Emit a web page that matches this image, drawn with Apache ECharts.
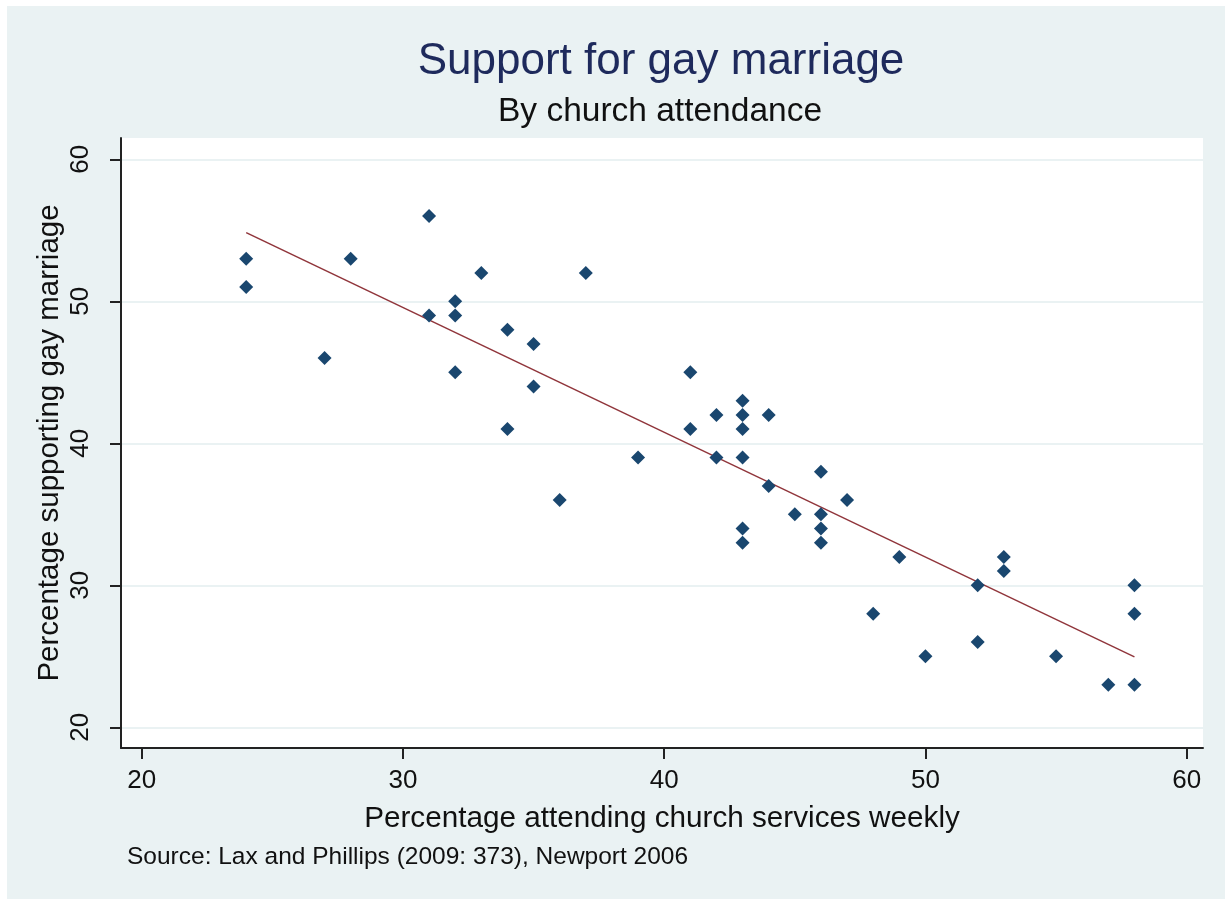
<!DOCTYPE html>
<html>
<head>
<meta charset="utf-8">
<script src="https://cdn.jsdelivr.net/npm/echarts@6/dist/echarts.min.js"></script>
<style>
html,body{margin:0;padding:0;background:#ffffff;}
#bg{position:absolute;left:7px;top:6px;width:1218px;height:893px;background:#eaf2f3;}
#chart{position:absolute;left:0;top:0;width:1225px;height:899px;}
</style>
</head>
<body>
<div id="bg"></div>
<div id="chart"></div>
<script>
// Percentage attending church services weekly (x) and percentage supporting gay marriage (y)
const attendance = [24,24,27,28,31,31,32,32,32,33,34,34,35,35,36,37,39,41,41,42,42,43,43,43,43,43,43,44,44,45,46,46,46,46,47,48,49,50,52,52,53,53,55,57,58,58,58];
const support    = [53,51,46,53,56,49,50,49,45,52,48,41,47,44,36,52,39,45,41,42,39,43,42,41,39,34,33,42,37,35,38,35,34,33,36,28,32,25,30,26,32,31,25,23,30,28,23];
const xTicks = [20,30,40,50,60];
const yTicks = [20,30,40,50,60];

const titleText = 'Support for gay marriage';
const subtitleText = 'By church attendance';
const xTitle = 'Percentage attending church services weekly';
const yTitle = 'Percentage supporting gay marriage';
const noteText = 'Source: Lax and Phillips (2009: 373), Newport 2006';

// Linear fit (OLS) computed from the data
const n = attendance.length;
let mx = 0, my = 0;
for (let i = 0; i < n; i++) { mx += attendance[i]; my += support[i]; }
mx /= n; my /= n;
let sxy = 0, sxx = 0;
for (let i = 0; i < n; i++) { sxy += (attendance[i]-mx)*(support[i]-my); sxx += (attendance[i]-mx)**2; }
const slope = sxy / sxx, intercept = my - slope*mx;
const xLo = Math.min(...attendance), xHi = Math.max(...attendance);
const fitLine = [[xLo, intercept + slope*xLo], [xHi, intercept + slope*xHi]];

const points = attendance.map((x, i) => [x, support[i]]);
const FONT = '"Liberation Sans", Arial, sans-serif';

const chart = echarts.init(document.getElementById('chart'), null, {renderer: 'canvas'});
chart.setOption({
  backgroundColor: 'transparent',
  animation: false,
  textStyle: {fontFamily: FONT},
  graphic: [
    {type: 'text', x: 661, y: 62, style: {text: titleText, textAlign: 'center', textVerticalAlign: 'middle', font: '44px ' + FONT, fill: '#1e2a5c'}},
    {type: 'text', x: 660, y: 112, style: {text: subtitleText, textAlign: 'center', textVerticalAlign: 'middle', font: '33.5px ' + FONT, fill: '#111'}},
    {type: 'text', x: 127, y: 857, style: {text: noteText, textAlign: 'left', textVerticalAlign: 'middle', font: '24.5px ' + FONT, fill: '#111'}}
  ],
  grid: {
    left: 121, top: 138, width: 1082, height: 610,
    show: true, backgroundColor: '#ffffff', borderWidth: 0
  },
  xAxis: {
    type: 'value', min: 19.208, max: 60.624,
    name: xTitle, nameLocation: 'middle', nameGap: 56, nameMoveOverlap: false,
    nameTextStyle: {fontSize: 29.7, color: '#111', fontFamily: FONT},
    axisLine: {show: true, onZero: false, lineStyle: {color: '#222', width: 2}},
    axisTick: {show: true, length: 11, customValues: xTicks, lineStyle: {color: '#222', width: 2}},
    axisLabel: {customValues: xTicks, fontSize: 26, color: '#111', margin: 20, fontFamily: FONT},
    splitLine: {show: false}
  },
  yAxis: {
    type: 'value', min: 18.54, max: 61.5,
    name: yTitle, nameLocation: 'middle', nameGap: 56, nameRotate: 90, nameMoveOverlap: false,
    nameTextStyle: {fontSize: 29.5, color: '#111', fontFamily: FONT},
    axisLine: {show: true, onZero: false, lineStyle: {color: '#222', width: 2}},
    axisTick: {show: true, length: 11, customValues: yTicks, lineStyle: {color: '#222', width: 2}},
    axisLabel: {customValues: yTicks, fontSize: 26, color: '#111', margin: 27, rotate: 90, fontFamily: FONT},
    splitLine: {show: true, lineStyle: {color: '#eaf2f3', width: 2}}
  },
  series: [
    {
      type: 'scatter', data: points, symbol: 'diamond', symbolSize: 14,
      itemStyle: {color: '#1a476f', opacity: 1}, z: 3
    },
    {
      type: 'line', data: fitLine, symbol: 'none', showSymbol: false,
      lineStyle: {color: '#90353b', width: 1.5}, z: 2
    }
  ]
});
</script>
</body>
</html>
